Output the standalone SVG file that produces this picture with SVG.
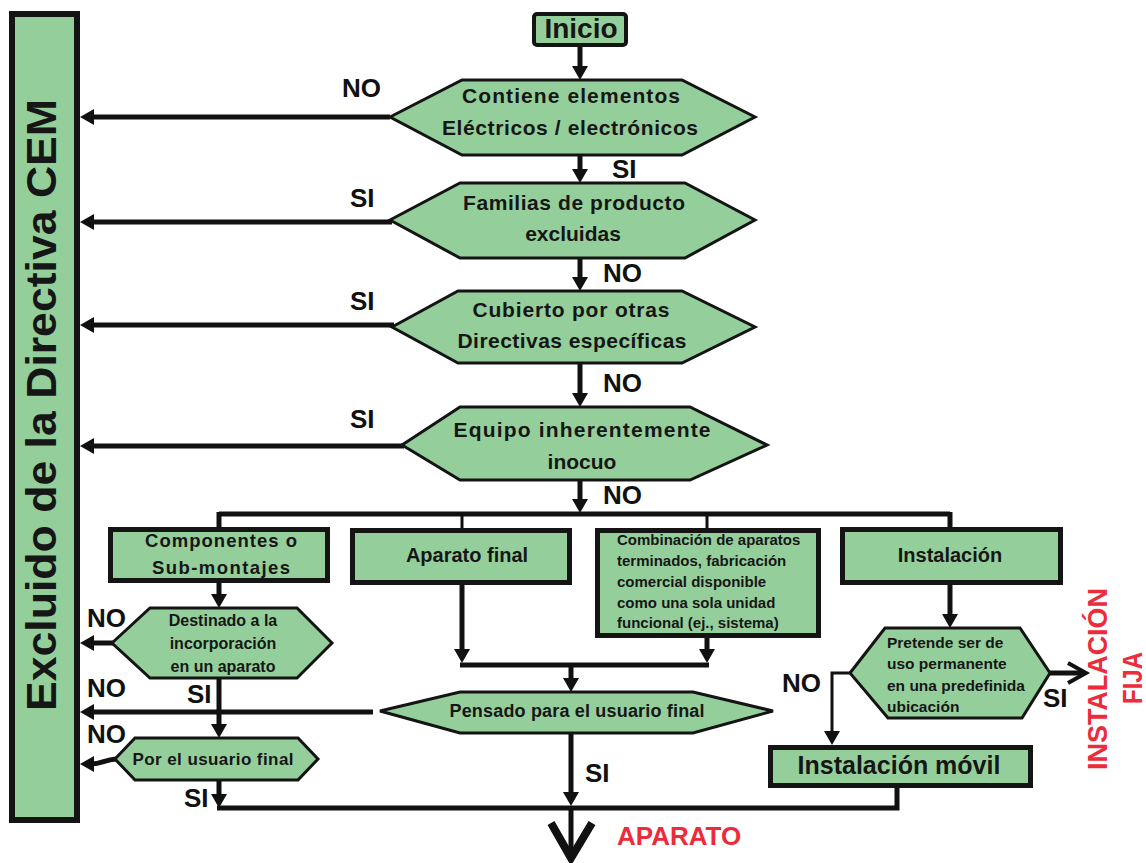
<svg xmlns="http://www.w3.org/2000/svg" width="1146" height="863" viewBox="0 0 1146 863">
<style>
.bg{fill:#ffffff}
.node{fill:#94cf9b;stroke:#141414}
.hex{stroke-width:3;stroke-linejoin:miter}
.box{stroke-width:5}
.t{font-family:"Liberation Sans",Arial,sans-serif;font-weight:bold;fill:#161616}
.c{text-anchor:middle}
.lbl{font-family:"Liberation Sans",Arial,sans-serif;font-weight:bold;fill:#111;font-size:26px}
.red{font-family:"Liberation Sans",Arial,sans-serif;font-weight:bold;fill:#ec2b3b}
.ln{fill:none;stroke:#111;stroke-width:5}
.thin{fill:none;stroke:#111;stroke-width:3}
.arr{marker-end:url(#ah)}
</style>
<defs>
<marker id="ah" viewBox="0 0 14 16" refX="3" refY="8" markerWidth="14" markerHeight="16" markerUnits="userSpaceOnUse" orient="auto">
<path d="M0,0 L14,8 L0,16 z" fill="#111"/>
</marker>
</defs>
<rect class="bg" x="0" y="0" width="1146" height="863"/>

<g id="connectors">
<path class="ln arr" d="M580,47 V69"/>
<path class="ln arr" d="M580,155 V172"/>
<path class="ln arr" d="M580,258 V280"/>
<path class="ln arr" d="M580,363 V396"/>
<path class="ln arr" d="M580,480 V502"/>
<path class="ln" d="M219,514 H950"/>
<path class="ln" d="M219,512 V529"/>
<path class="thin" d="M462,514 V529"/>
<path class="thin" d="M707,514 V529"/>
<path class="ln" d="M950,512 V529"/>
<path class="ln arr" d="M390,117 H91"/>
<path class="ln arr" d="M392,222 H91"/>
<path class="ln arr" d="M394,325 H91"/>
<path class="ln arr" d="M404,446 H91"/>
<path class="ln arr" d="M219,583 V597"/>
<path class="ln arr" d="M114,643 H91"/>
<path class="ln arr" d="M219,678 V727"/>
<path class="ln arr" d="M116,759 C104,760 102,764 91,764"/>
<path class="ln arr" d="M219,780 V797"/>
<path class="ln" d="M897,786 V808 H217"/>
<path class="ln arr" d="M462,585 V652"/>
<path class="ln arr" d="M707,638 V652"/>
<path class="ln" d="M460,665 H709"/>
<path class="ln arr" d="M571,665 V681"/>
<path class="ln arr" d="M373,712 H91"/>
<path class="ln arr" d="M571,733 V795"/>
<path class="ln arr" d="M950,585 V617"/>
<path class="thin arr" d="M850,673 H832 V734"/>
<path class="ln" d="M1049,673 H1084"/>
<path d="M1068,663 L1086,673 L1068,683" fill="none" stroke="#111" stroke-width="4"/>
<path class="ln" d="M571,808 V856"/>
<path d="M551,823 L571,858 L592,823" fill="none" stroke="#111" stroke-width="8" stroke-linejoin="miter"/>
</g>

<g id="excluido">
<rect class="node" x="12" y="14" width="65" height="806" stroke-width="6"/>
<text class="t c" font-size="43" transform="translate(56,405) rotate(-90)" textLength="612" lengthAdjust="spacingAndGlyphs">Excluido de la Directiva CEM</text>
</g>

<g id="inicio">
<rect class="node" x="534" y="14" width="92" height="31" rx="3" stroke-width="4"/>
<text class="t c" x="581" y="38" font-size="28">Inicio</text>
</g>

<g id="q1">
<polygon class="node hex" points="390,117 462,80 682,80 755,117 682,155 462,155"/>
<text class="t c" x="571" y="103" font-size="21" textLength="218">Contiene elementos</text>
<text class="t c" x="570" y="135" font-size="21" textLength="256">Eléctricos / electrónicos</text>
</g>

<g id="q2">
<polygon class="node hex" points="390,220 460,183 685,183 755,220 685,258 460,258"/>
<text class="t c" x="574" y="210" font-size="21" textLength="222">Familias de producto</text>
<text class="t c" x="573" y="241" font-size="21">excluidas</text>
</g>

<g id="q3">
<polygon class="node hex" points="392,327 458,291 682,291 755,327 682,363 458,363"/>
<text class="t c" x="571" y="317" font-size="21" textLength="197">Cubierto por otras</text>
<text class="t c" x="572" y="348" font-size="21" textLength="229">Directivas específicas</text>
</g>

<g id="q4">
<polygon class="node hex" points="402,445 460,407 690,407 767,445 690,480 460,480"/>
<text class="t c" x="582" y="437" font-size="21" textLength="257">Equipo inherentemente</text>
<text class="t c" x="582" y="469" font-size="21">inocuo</text>
</g>

<g id="componentes">
<rect class="node box" x="110.5" y="529.5" width="217" height="51"/>
<text class="t c" x="221" y="547" font-size="18.5" textLength="152">Componentes o</text>
<text class="t c" x="221" y="574" font-size="18.5" textLength="138">Sub-montajes</text>
</g>

<g id="aparato-final">
<rect class="node box" x="352.5" y="530.5" width="217" height="52"/>
<text class="t c" x="467" y="562" font-size="20">Aparato final</text>
</g>

<g id="combinacion">
<rect class="node box" x="597.5" y="530.5" width="221" height="105"/>
<text class="t" x="617" y="545" font-size="15">Combinación de aparatos</text>
<text class="t" x="617" y="566" font-size="15">terminados, fabricación</text>
<text class="t" x="617" y="587" font-size="15">comercial disponible</text>
<text class="t" x="617" y="608" font-size="15">como una sola unidad</text>
<text class="t" x="617" y="628" font-size="15">funcional (ej., sistema)</text>
</g>

<g id="instalacion">
<rect class="node box" x="842.5" y="529.5" width="218" height="53"/>
<text class="t c" x="950" y="562" font-size="20">Instalación</text>
</g>

<g id="destinado">
<polygon class="node hex" points="112,643 150,608 297,608 332,643 297,678 150,678"/>
<text class="t c" x="223" y="626" font-size="16">Destinado a la</text>
<text class="t c" x="223" y="649" font-size="16">incorporación</text>
<text class="t c" x="223" y="672" font-size="16">en un aparato</text>
</g>

<g id="por-usuario">
<polygon class="node hex" points="115,759 135,738 298,738 318,759 298,780 135,780"/>
<text class="t c" x="213" y="765" font-size="17" textLength="161">Por el usuario final</text>
</g>

<g id="pensado">
<polygon class="node hex" points="380,711 460,692 693,692 773,711 693,733 460,733"/>
<text class="t c" x="577" y="717" font-size="18" textLength="255">Pensado para el usuario final</text>
</g>

<g id="pretende">
<polygon class="node hex" points="850,673 885,628 1020,628 1050,673 1022,718 888,718"/>
<text class="t" x="887" y="648" font-size="15.5">Pretende ser de</text>
<text class="t" x="887" y="669" font-size="15.5">uso permanente</text>
<text class="t" x="887" y="691" font-size="15.5">en una predefinida</text>
<text class="t" x="887" y="712" font-size="15.5">ubicación</text>
</g>

<g id="movil">
<rect class="node box" x="770.5" y="747.5" width="260" height="38"/>
<text class="t c" x="899" y="774" font-size="25">Instalación móvil</text>
</g>

<g id="labels">
<text class="lbl" x="342" y="97">NO</text>
<text class="lbl" x="350" y="207">SI</text>
<text class="lbl" x="350" y="310">SI</text>
<text class="lbl" x="350" y="428">SI</text>
<text class="lbl" x="612" y="178">SI</text>
<text class="lbl" x="603" y="282">NO</text>
<text class="lbl" x="603" y="392">NO</text>
<text class="lbl" x="603" y="504">NO</text>
<text class="lbl" x="87" y="627">NO</text>
<text class="lbl" x="87" y="697">NO</text>
<text class="lbl" x="187" y="703">SI</text>
<text class="lbl" x="87" y="743">NO</text>
<text class="lbl" x="184" y="807">SI</text>
<text class="lbl" x="585" y="782">SI</text>
<text class="lbl" x="782" y="692">NO</text>
<text class="lbl" x="1043" y="707">SI</text>
</g>

<g id="results">
<text class="red" x="617" y="845" font-size="26">APARATO</text>
<text class="red" font-size="28" text-anchor="middle" transform="translate(1107,679) rotate(-90)" textLength="182" lengthAdjust="spacingAndGlyphs">INSTALACIÓN</text>
<text class="red" font-size="28" text-anchor="middle" transform="translate(1142,678) rotate(-90)" textLength="52" lengthAdjust="spacingAndGlyphs">FIJA</text>
</g>
</svg>
